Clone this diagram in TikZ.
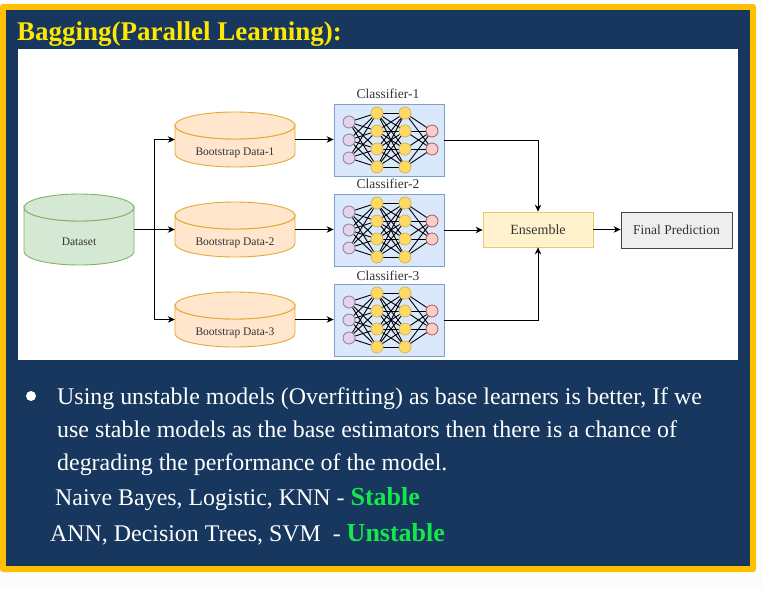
\documentclass[tikz,border=0pt]{standalone}
\usepackage{fontspec}
\setmainfont{Liberation Serif}
\usetikzlibrary{arrows.meta}
\pgfdeclarelayer{edges}
\pgfdeclarelayer{top}
\pgfsetlayers{main,edges,top}
\definecolor{navy}{HTML}{17375E}
\definecolor{gold}{HTML}{FFC000}
\definecolor{titley}{HTML}{FFE800}
\definecolor{green1}{HTML}{12E84A}
\definecolor{ink}{HTML}{333333}
\definecolor{clfill}{HTML}{DAE8FC}
\definecolor{cldraw}{HTML}{7F9FCF}
\definecolor{infill}{HTML}{E1D5E7}
\definecolor{indraw}{HTML}{9673A6}
\definecolor{hfill}{HTML}{FFD966}
\definecolor{hdraw}{HTML}{D6B656}
\definecolor{ofill}{HTML}{F8CECC}
\definecolor{odraw}{HTML}{B85450}
\definecolor{enfill}{HTML}{FFF2CC}
\definecolor{endraw}{HTML}{E8C86E}
\definecolor{fpfill}{HTML}{EEEEEE}
\definecolor{fpdraw}{HTML}{464646}
\definecolor{dsfill}{HTML}{D5E8D4}
\definecolor{dsdraw}{HTML}{82B366}
\definecolor{bsfill}{HTML}{FFE6CC}
\definecolor{bsdraw}{HTML}{E6AA32}
\definecolor{page}{HTML}{FBFCFE}
\tikzset{
  x=1pt,y=-1pt,
  arrowline/.style={draw=black,line width=0.9pt,-{Stealth[length=7pt,width=6.5pt]}},
  cyllabel/.style={font=\fontsize{11.5}{13}\selectfont,text=ink,inner sep=0pt},
  hold/.style={rectangle,inner sep=0pt,minimum width=#1},
  clbox/.style={draw=cldraw,fill=clfill,rectangle,inner sep=0pt,minimum width=110pt,minimum height=72pt,line width=0.8pt},
  cltitle/.style={font=\fontsize{13.5}{15}\selectfont,text=ink,inner sep=0pt},
  neu/.style={circle,inner sep=0pt,minimum size=12pt,line width=0.8pt},
  neuin/.style={neu,draw=indraw,fill=infill},
  neuh/.style={neu,draw=hdraw,fill=hfill},
  neuout/.style={neu,draw=odraw,fill=ofill},
  ens/.style={rectangle,inner sep=0pt,minimum width=110pt,minimum height=35pt,draw=endraw,fill=enfill,line width=0.8pt,font=\fontsize{14}{16}\selectfont,text=ink},
  fin/.style={rectangle,inner sep=0pt,minimum width=111pt,minimum height=36pt,draw=fpdraw,fill=fpfill,line width=0.8pt,font=\fontsize{13.5}{16}\selectfont,text=ink},
  body/.style={anchor=base west,inner sep=0pt,text=white,font=\fontsize{23.9}{28}\selectfont},
  edge/.style={draw=black,line width=0.9pt},
}
\newcommand{\bigbold}[1]{\textcolor{green1}{\fontsize{26}{28}\selectfont\bfseries #1}}
% cylinder: #1 name, #2 left, #3 right, #4 top, #5 bottom, #6 fill, #7 stroke, #8 text, #9 text y
\newcommand{\cyl}[9]{%
  \path[draw=#7,fill=#6,line width=0.9pt]
    (#2,#4+13.5) arc[start angle=180,end angle=360,x radius={(#3-#2)/2},y radius=-13.5]
    -- (#3,#5-13.5) arc[start angle=0,end angle=-180,x radius={(#3-#2)/2},y radius=-13.5] -- cycle;
  \path[draw=#7,fill=#6,line width=0.9pt]
    ({(#2+#3)/2},#4+13.5) ellipse[x radius={(#3-#2)/2},y radius=13.5];
  \node[hold=#3pt-#2pt,minimum height=#5pt-#4pt] (#1) at ({(#2+#3)/2},{(#4+#5)/2}) {};
  \node[cyllabel] (#1t) at ({(#2+#3)/2},#9) {#8};
}
% classifier network: #1 prefix, #2 y offset, #3 title, #4 title y
\newcommand{\net}[4]{%
  \node[clbox] (#1) at (389,{140+#2}) {};
  \node[cltitle] (#1t) at (388,#4) {#3};
  \begin{pgfonlayer}{top}
  \foreach \i/\y in {1/122,2/140,3/158} \node[neuin] (#1a\i) at (349,{\y+#2}) {};
  \foreach \i/\y in {1/113,2/131,3/149,4/167} {
    \node[neuh] (#1b\i) at (377,{\y+#2}) {};
    \node[neuh] (#1c\i) at (405,{\y+#2}) {};
  }
  \foreach \i/\y in {1/131,2/149} \node[neuout] (#1d\i) at (432,{\y+#2}) {};
  \end{pgfonlayer}
  \begin{pgfonlayer}{edges}
  \foreach \p in {1,2,3} \foreach \q in {1,2,3,4} \draw[edge] (#1a\p) -- (#1b\q);
  \foreach \p in {1,2,3,4} \foreach \q in {1,2,3,4} \draw[edge] (#1b\p) -- (#1c\q);
  \foreach \p in {1,2,3,4} \foreach \q in {1,2} \draw[edge] (#1c\p) -- (#1d\q);
  \end{pgfonlayer}
}
\begin{document}
\begin{tikzpicture}
\useasboundingbox (0,0) rectangle (762,590);
\fill[page] (0,0) rectangle (762,590);
\fill[gold,rounded corners=3pt] (0,4) rectangle (756,572);
\fill[navy] (6,10) rectangle (750,566);
\fill[white] (18,49) rectangle (738,360);
\node[anchor=base west,inner sep=0pt,text=titley,font=\fontsize{27}{30}\selectfont\bfseries] (title) at (17,40) {Bagging(Parallel Learning):};

\cyl{ds}{24}{134}{194}{265}{dsfill}{dsdraw}{Dataset}{242}
\cyl{bo}{175}{295}{112}{167}{bsfill}{bsdraw}{Bootstrap Data-1}{152.5}
\cyl{bt}{175}{295}{202}{257}{bsfill}{bsdraw}{Bootstrap Data-2}{242.5}
\cyl{bh}{175}{295}{292}{347}{bsfill}{bsdraw}{Bootstrap Data-3}{332.5}

\net{ca}{0}{Classifier-1}{94}
\net{cb}{90}{Classifier-2}{184}
\net{cc}{180}{Classifier-3}{276}

\node[ens] (en) at (538,229.5) {Ensemble};
\node[fin] (fp) at (676.5,230) {Final Prediction};

\coordinate (split) at (154,229.5);
\draw[arrowline] (ds.east |- split) -- (bt.west |- split);
\draw[arrowline] (split) |- (bo.west);
\draw[arrowline] (split) |- (bh.west);
\draw[arrowline] (bo.east) -- (ca.west |- bo.east);
\draw[arrowline] (bt.east) -- (cb.west |- bt.east);
\draw[arrowline] (bh.east) -- (cc.west |- bh.east);
\draw[arrowline] (ca.east) -| (en.north);
\draw[arrowline] (cb.east) -- (en.west |- cb.east);
\draw[arrowline] (cc.east) -| (en.south);
\draw[arrowline] (en.east) -- (fp.west |- en.east);

\node[circle,fill=white,inner sep=0pt,minimum size=10pt] (dot) at (31,396) {};
\node[body] (l1) at (57,404) {Using unstable models (Overfitting) as base learners is better, If we};
\node[body] (l2) at (57,437) {use stable models as the base estimators then there is a chance of};
\node[body] (l3) at (57,470) {degrading the performance of the model.};
\node[body] (l4) at (55,505) {Naive Bayes, Logistic, KNN - \bigbold{Stable}};
\node[body] (l5) at (50,541) {ANN, Decision Trees, SVM\ \ - \bigbold{Unstable}};
\end{tikzpicture}
\end{document}
